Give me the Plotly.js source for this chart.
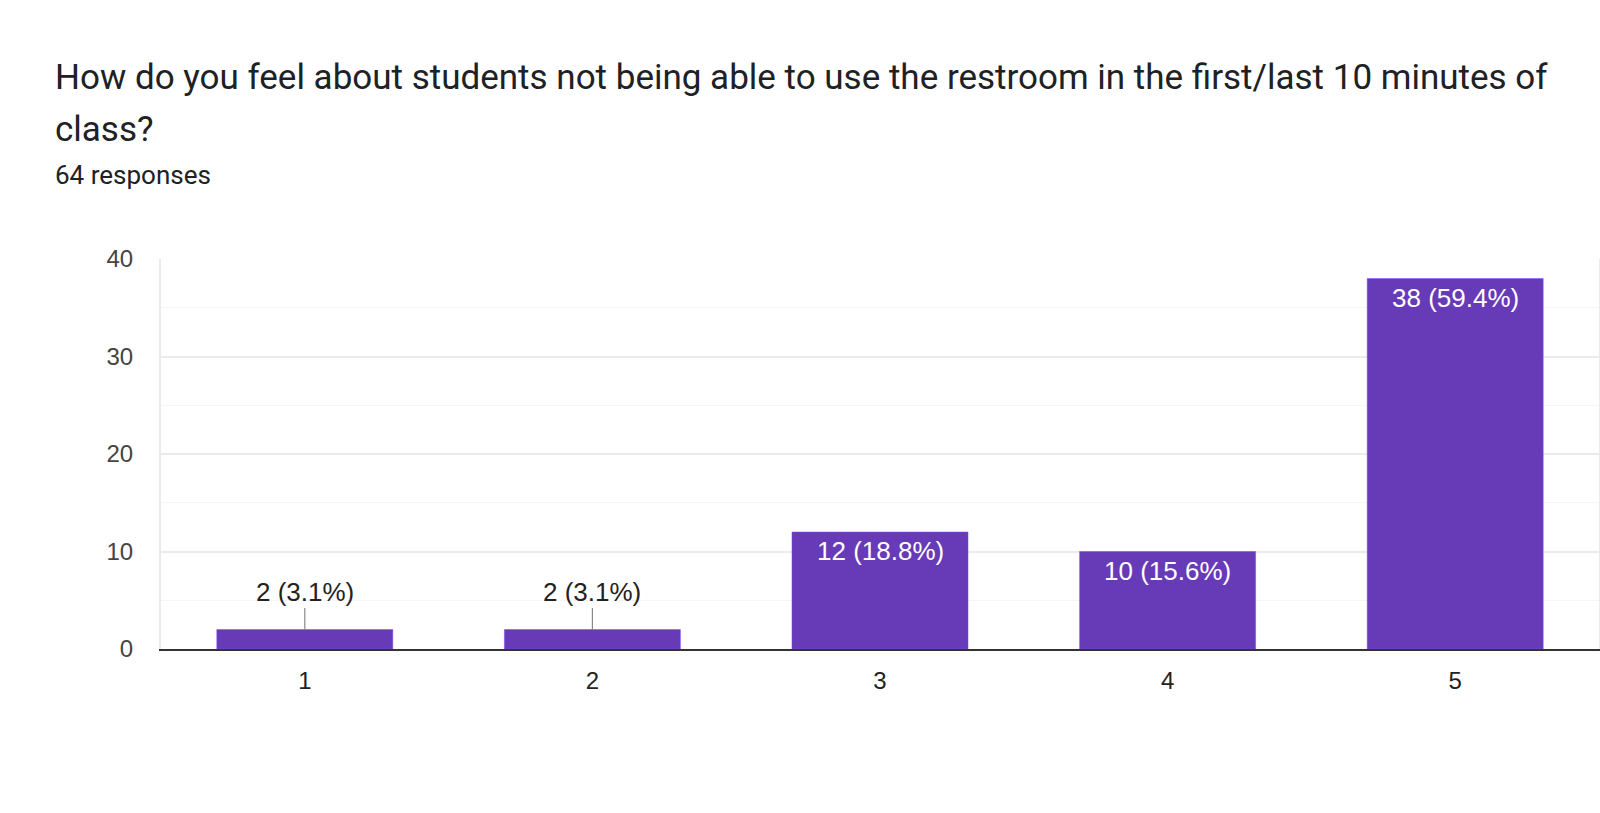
<!DOCTYPE html>
<html>
<head>
<meta charset="utf-8">
<script src="https://cdn.plot.ly/plotly-3.0.1.min.js"></script>
<style>html,body{margin:0;padding:0;background:#fff;}#chart{width:1600px;height:813px;}</style>
</head>
<body>
<div id="chart"></div>
<script>
const categories = ["1", "2", "3", "4", "5"];
const counts = [2, 2, 12, 10, 38];
const percents = ["3.1%", "3.1%", "18.8%", "15.6%", "59.4%"];
const yTicks = [0, 10, 20, 30, 40];
const titleLines = ["How do you feel about students not being able to use the restroom in the first/last 10 minutes of", "class?"];
const subtitle = "64 responses";

const PURPLE = "#673AB7";
const outsideThreshold = 5; // bars shorter than this get labels outside
const labelFamily = "Liberation Sans, Arial, sans-serif";

const annotations = [];
categories.forEach((c, i) => {
  const label = counts[i] + " (" + percents[i] + ")";
  if (counts[i] < outsideThreshold) {
    annotations.push({
      x: i, y: counts[i], xref: "x", yref: "y",
      text: label, showarrow: true, arrowhead: 0, arrowwidth: 1.2,
      arrowcolor: "#888", ax: 0, ay: -38, standoff: 0,
      font: {family: labelFamily, size: 26, color: "#222"}
    });
  } else {
    annotations.push({
      x: i, y: counts[i], xref: "x", yref: "y",
      text: label, showarrow: false, yanchor: "middle", yshift: -19,
      font: {family: labelFamily, size: 26, color: "#fff"}
    });
  }
});

const titleFont = {family: "Roboto, sans-serif", size: 35, color: "#202124"};
annotations.push({xref: "paper", yref: "paper", x: -0.0751, y: 1.465, xanchor: "left", yanchor: "middle",
  text: titleLines[0], showarrow: false, font: titleFont});
annotations.push({xref: "paper", yref: "paper", x: -0.0751, y: 1.331, xanchor: "left", yanchor: "middle",
  text: titleLines[1], showarrow: false, font: titleFont});
annotations.push({xref: "paper", yref: "paper", x: -0.0751, y: 1.216, xanchor: "left", yanchor: "middle",
  text: subtitle, showarrow: false, font: {family: "Roboto, sans-serif", size: 26, color: "#202124"}});

const data = [{
  type: "bar",
  x: categories,
  y: counts,
  marker: {color: PURPLE, line: {color: "#7c4dff", width: 0.5}},
  hoverinfo: "none"
}];

const layout = {
  width: 1600, height: 813,
  margin: {l: 161, r: 1, t: 259, b: 164},
  paper_bgcolor: "#fff", plot_bgcolor: "#fff",
  bargap: 0.388,
  showlegend: false,
  xaxis: {
    type: "category",
    range: [-0.5, 4.5],
    showgrid: false,
    showline: true, linecolor: "#333", linewidth: 2,
    ticks: "outside", ticklen: 9, tickcolor: "rgba(0,0,0,0)",
    tickfont: {family: labelFamily, size: 24, color: "#222"},
    fixedrange: true
  },
  yaxis: {
    range: [0, 40],
    tickvals: yTicks,
    ticktext: yTicks.map(String),
    showgrid: true, gridcolor: "#ebebeb", gridwidth: 2,
    minor: {dtick: 5, showgrid: true, gridcolor: "#f5f5f5", gridwidth: 1},
    zeroline: false,
    showline: true, linecolor: "#ebebeb", linewidth: 2, mirror: true,
    ticks: "outside", ticklen: 21, tickcolor: "rgba(0,0,0,0)",
    tickfont: {family: labelFamily, size: 24, color: "#444"},
    fixedrange: true
  },
  annotations: annotations
};

Plotly.newPlot("chart", data, layout, {displayModeBar: false, staticPlot: true});
</script>
</body>
</html>
